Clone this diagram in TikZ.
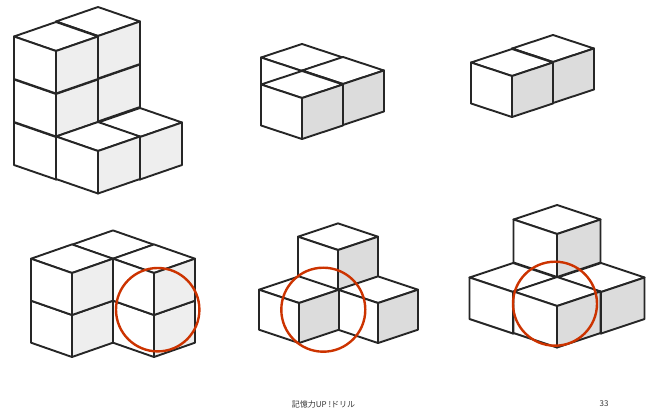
\documentclass[tikz,border=0pt]{standalone}
\usepackage{fontspec}
\setmainfont{Noto Sans CJK JP}
\definecolor{paleface}{HTML}{EEEEEE}
\definecolor{darkface}{HTML}{DCDCDC}
\definecolor{ringred}{HTML}{CC3300}
\tikzset{
  face/.style={draw=black!85, line width=1.9pt, line join=round, fill=white},
  ring/.style={draw=ringred, line width=2.4pt},
  footer/.style={font=\fontsize{8}{8}\selectfont, text=black!80, inner sep=0pt},
  pics/cube/.style={code={
    \draw[face] (0,0) -- (-\dx,-\dy) -- (0,-2*\dy) -- (\dx,-\dy) -- cycle;
    \draw[face] (0,0) -- (-\dx,-\dy) -- (-\dx,\hh-\dy) -- (0,\hh) -- cycle;
    \draw[face, fill=#1] (0,0) -- (\dx,-\dy) -- (\dx,\hh-\dy) -- (0,\hh) -- cycle;
  }}
}
\begin{document}
\begin{tikzpicture}[x=1pt, y=-1pt]
\useasboundingbox (0,0) rectangle (648,414);

% --- top row ---
\def\dx{42}\def\dy{14.5}\def\hh{42.5}
\foreach \px/\py in {98/122, 98/79, 98/36, 140/137, 56/137, 56/94, 56/51, 98/151}
  \pic at (\px,\py) {cube=paleface};

\def\dx{41}\def\dy{13.5}\def\hh{41}
\foreach \px/\py in {302/71, 343/84, 302/98}
  \pic at (\px,\py) {cube=darkface};
\foreach \px/\py in {553/62, 512/76}
  \pic at (\px,\py) {cube=darkface};

% --- bottom row ---
\def\dx{41}\def\dy{14.3}\def\hh{42}
\foreach \px/\py in {113/259, 72/315, 72/273, 154/315, 154/273}
  \pic at (\px,\py) {cube=paleface};

\def\dx{40}\def\dy{13.3}\def\hh{40}
\foreach \px/\py in {338/250, 378/303, 299/303}
  \pic at (\px,\py) {cube=darkface};

\def\dx{43.5}\def\dy{14.5}\def\hh{43}
\pic at (557,234) {cube=darkface};
\def\hh{41.5}
\foreach \px/\py in {513/292, 601/292, 557/306}
  \pic at (\px,\py) {cube=darkface};

% --- circled corners ---
\draw[ring] (157.7,309.7) circle[radius=41.7];
\draw[ring] (323.3,309.7) circle[radius=42];
\draw[ring] (555,303.7) circle[radius=42];

% --- footer ---
\node[footer] (title) at (323.5,404) {記憶力UP !ドリル};
\node[footer] (page) at (604,404) {33};

\end{tikzpicture}
\end{document}
